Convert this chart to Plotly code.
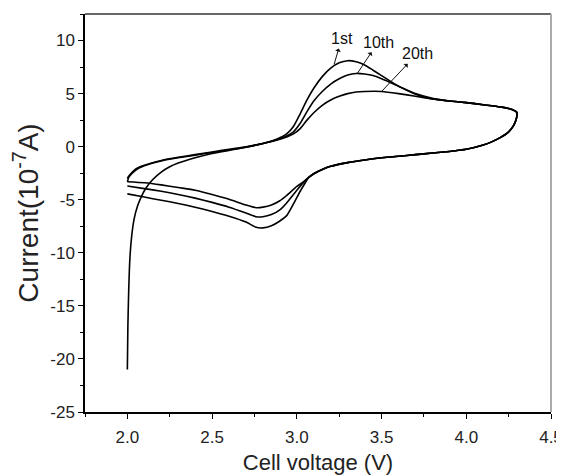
import plotly.graph_objects as go

# ---- data: cyclic voltammogram, voltage (V) and current (1e-7 A) ----
c1_anodic_v = [2.0, 2.003, 2.008, 2.015, 2.025, 2.04, 2.06, 2.08, 2.11, 2.15, 2.2, 2.25, 2.3, 2.4, 2.5, 2.6, 2.7, 2.8, 2.88, 2.94, 2.98, 3.02, 3.06, 3.1, 3.15, 3.2, 3.25, 3.3, 3.35, 3.4, 3.45, 3.5, 3.6, 3.7, 3.8, 3.9, 4.0, 4.1, 4.2, 4.27, 4.3]
c1_anodic_i = [-21.0, -17.0, -13.5, -10.5, -8.5, -6.8, -5.6, -4.8, -3.9, -3.1, -2.4, -1.9, -1.55, -1.05, -0.65, -0.35, -0.05, 0.3, 0.7, 1.2, 1.9, 3.1, 4.4, 5.5, 6.6, 7.4, 7.9, 8.1, 8.0, 7.7, 7.2, 6.7, 5.7, 4.95, 4.5, 4.3, 4.15, 3.95, 3.75, 3.5, 3.2]

c10_anodic_v = [2.0, 2.01, 2.05, 2.1, 2.2, 2.3, 2.4, 2.5, 2.6, 2.7, 2.8, 2.88, 2.94, 2.98, 3.02, 3.06, 3.1, 3.15, 3.2, 3.25, 3.3, 3.35, 3.4, 3.45, 3.5, 3.6, 3.7, 3.8, 3.9, 4.0, 4.1, 4.2, 4.27, 4.3]
c10_anodic_i = [-3.3, -2.85, -2.2, -1.8, -1.35, -1.05, -0.8, -0.55, -0.3, -0.05, 0.3, 0.65, 1.0, 1.4, 2.2, 3.3, 4.3, 5.2, 5.9, 6.4, 6.75, 6.9, 6.85, 6.7, 6.4, 5.7, 5.0, 4.55, 4.3, 4.15, 3.95, 3.75, 3.5, 3.2]

c20_anodic_v = [2.0, 2.01, 2.05, 2.1, 2.2, 2.3, 2.4, 2.5, 2.6, 2.7, 2.8, 2.88, 2.94, 2.98, 3.02, 3.06, 3.1, 3.15, 3.2, 3.25, 3.3, 3.35, 3.4, 3.5, 3.6, 3.7, 3.8, 3.9, 4.0, 4.1, 4.2, 4.27, 4.3]
c20_anodic_i = [-3.0, -2.75, -2.1, -1.75, -1.3, -1.0, -0.75, -0.5, -0.25, 0.0, 0.3, 0.6, 0.9, 1.2, 1.7, 2.5, 3.2, 3.9, 4.4, 4.75, 5.0, 5.15, 5.2, 5.2, 5.0, 4.75, 4.5, 4.3, 4.15, 3.95, 3.75, 3.5, 3.2]

shared_cathodic_v = [4.3, 4.295, 4.28, 4.25, 4.2, 4.15, 4.1, 4.0, 3.9, 3.8, 3.7, 3.6, 3.5, 3.4, 3.3, 3.2, 3.15, 3.1]
shared_cathodic_i = [3.1, 2.6, 2.0, 1.4, 0.85, 0.45, 0.15, -0.25, -0.45, -0.6, -0.75, -0.9, -1.05, -1.25, -1.5, -1.85, -2.15, -2.55]

c1_cathodic_v = [3.07, 3.05, 3.02, 2.98, 2.94, 2.9, 2.85, 2.8, 2.76, 2.7, 2.6, 2.5, 2.4, 2.3, 2.2, 2.1, 2.0]
c1_cathodic_i = [-2.9, -3.4, -4.2, -5.4, -6.5, -7.0, -7.45, -7.65, -7.6, -7.1, -6.55, -6.1, -5.7, -5.35, -5.05, -4.75, -4.45]
c10_cathodic_v = [3.07, 3.05, 3.0, 2.94, 2.9, 2.85, 2.8, 2.76, 2.7, 2.6, 2.5, 2.4, 2.3, 2.2, 2.1, 2.0]
c10_cathodic_i = [-2.9, -3.2, -4.1, -5.3, -5.95, -6.4, -6.6, -6.6, -6.25, -5.7, -5.25, -4.85, -4.5, -4.2, -3.95, -3.7]
c20_cathodic_v = [3.07, 3.04, 3.0, 2.94, 2.9, 2.85, 2.8, 2.76, 2.7, 2.6, 2.5, 2.4, 2.3, 2.2, 2.1, 2.0]
c20_cathodic_i = [-2.9, -3.3, -3.75, -4.6, -5.1, -5.5, -5.7, -5.75, -5.5, -4.95, -4.5, -4.1, -3.85, -3.6, -3.4, -3.3]

cycle_labels = ["1st", "10th", "20th"]
label_pos_v = [3.265, 3.48, 3.71]
label_pos_i = [10.2, 9.85, 8.75]
arrow_tail_v = [3.22, 3.355, 3.50]
arrow_tail_i = [7.75, 6.85, 5.2]

x_ticks = [2.0, 2.5, 3.0, 3.5, 4.0, 4.5]
y_ticks = [10, 5, 0, -5, -10, -15, -20, -25]

fig = go.Figure()
cycles = [
    (c1_anodic_v, c1_anodic_i, c1_cathodic_v, c1_cathodic_i),
    (c10_anodic_v, c10_anodic_i, c10_cathodic_v, c10_cathodic_i),
    (c20_anodic_v, c20_anodic_i, c20_cathodic_v, c20_cathodic_i),
]
for name, (av, ai, cv, ci) in zip(cycle_labels, cycles):
    xs = av + shared_cathodic_v + cv
    ys = ai + shared_cathodic_i + ci
    fig.add_trace(go.Scatter(x=xs, y=ys, mode="lines", name=name,
                             line=dict(color="black", width=1.6, shape="spline", smoothing=0.6),
                             showlegend=False, hoverinfo="skip"))

font = "Liberation Sans, Arial, sans-serif"
for lab, lx, ly, tx, ty in zip(cycle_labels, label_pos_v, label_pos_i, arrow_tail_v, arrow_tail_i):
    fig.add_annotation(x=tx, y=ty, ax=lx, ay=ly, axref="x", ayref="y",
                       text=lab, showarrow=True, arrowside="start", arrowhead=2,
                       arrowsize=0.8, arrowwidth=1, arrowcolor="#111", startstandoff=0,
                       font=dict(family=font, size=16, color="#111"))

# frame: gray top/right lines
fig.add_shape(type="line", xref="paper", yref="paper", x0=0, x1=1, y0=1, y1=1,
              line=dict(color="#666", width=2))
fig.add_shape(type="line", xref="paper", yref="paper", x0=1, x1=1, y0=0, y1=1,
              line=dict(color="#aaa", width=2))

fig.update_xaxes(range=[1.75, 4.5], tickvals=x_ticks, ticktext=[f"{v:.1f}" for v in x_ticks],
                 ticks="outside", ticklen=5, tickwidth=1, tickcolor="black",
                 minor=dict(dtick=0.25, tick0=0, ticks="outside", ticklen=3, tickcolor="black"),
                 showline=True, linecolor="black", linewidth=1.5, showgrid=False, zeroline=False,
                 automargin=False, ticklabeloverflow="allow", ticklabelstandoff=4,
                 tickfont=dict(family=font, size=17, color="#222"),
                 title=dict(text="Cell voltage (V)", font=dict(family=font, size=22, color="#222"),
                            standoff=9))
fig.update_yaxes(range=[-25, 12.5], tickvals=y_ticks, ticktext=[str(v) for v in y_ticks],
                 ticks="outside", ticklen=5, tickwidth=1, tickcolor="black",
                 minor=dict(dtick=2.5, tick0=0, ticks="outside", ticklen=3, tickcolor="black"),
                 showline=True, linecolor="black", linewidth=1.5, showgrid=False, zeroline=False,
                 automargin=False, ticklabeloverflow="allow",
                 tickfont=dict(family=font, size=17, color="#222"),
                 title=dict(text="Current(10<sup>-7</sup>A)", font=dict(family=font, size=28, color="#222"),
                            standoff=11))

# page body has an 8px margin, so the figure is shifted by 8px; compensate
fig.update_layout(width=556, height=467, plot_bgcolor="white", paper_bgcolor="white",
                  margin=dict(l=77, r=13, t=6, b=63))
fig.write_html("out.html")
